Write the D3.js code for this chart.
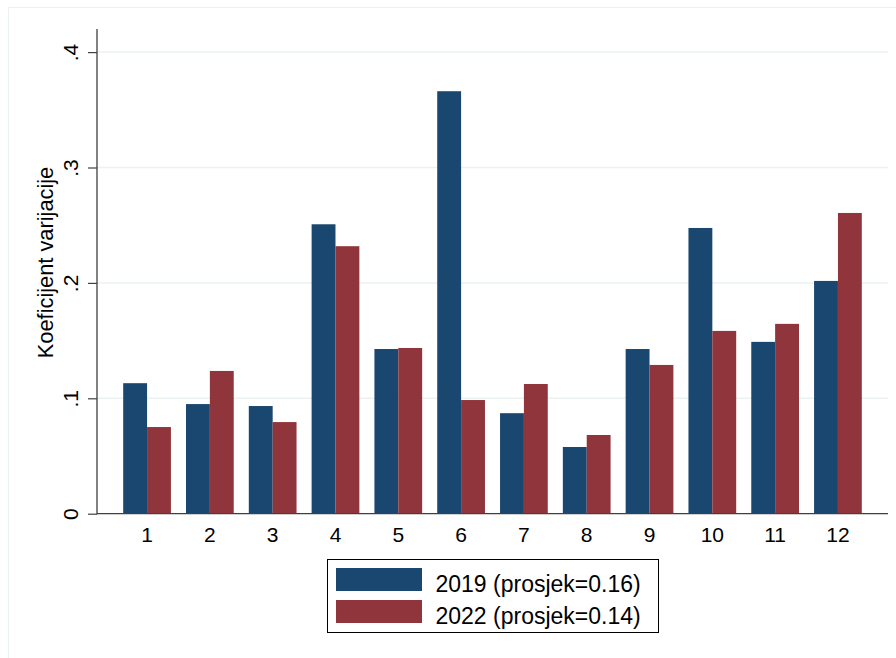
<!DOCTYPE html>
<html><head><meta charset="utf-8">
<script src="https://cdn.jsdelivr.net/npm/d3@7"></script>
<style>
html,body{margin:0;padding:0;background:#fff;}
svg{display:block;font-family:"Liberation Sans",Arial,Helvetica,sans-serif;}
</style></head>
<body><svg id="c" width="896" height="658"></svg>
<script>
const categories = ["1","2","3","4","5","6","7","8","9","10","11","12"];
const values2019 = [0.1131,0.0950,0.0933,0.2508,0.1427,0.3661,0.0871,0.0578,0.1427,0.2476,0.1489,0.2017];
const values2022 = [0.0751,0.1237,0.0794,0.2318,0.1436,0.0985,0.1124,0.0682,0.1289,0.1584,0.1645,0.2606];
const seriesNames = ["2019 (prosjek=0.16)","2022 (prosjek=0.14)"];
const yTicks = [0,0.1,0.2,0.3,0.4];
const yTickLabels = ["0",".1",".2",".3",".4"];
const yTitle = "Koeficijent varijacije";
const colors = ["#1a476f","#90353b"];

const svg = d3.select("#c");
// outer frame
svg.append("rect").attr("x",8.5).attr("y",7.5).attr("width",900).attr("height",700)
  .attr("fill","none").attr("stroke","#eaf2f3").attr("stroke-width",1);

const x0 = 97, x1 = 888, yZero = 513.7;
const y = d3.scaleLinear().domain([0,0.4]).range([yZero, yZero - 461.6]);
const x = d3.scaleBand().domain(categories).range([x0, x1]).paddingInner(0.24).paddingOuter(0.417);
const xs = d3.scaleBand().domain([0,1]).range([0, x.bandwidth()]);

// gridlines
svg.append("g").selectAll("line").data(yTicks.slice(1)).join("line")
  .attr("x1",x0).attr("x2",x1).attr("y1",d=>y(d)).attr("y2",d=>y(d))
  .attr("stroke","#eaf2f3").attr("stroke-width",1.5);

// bars
const series = [values2019, values2022];
const g = svg.append("g");
categories.forEach((c,i)=>{
  series.forEach((vals,s)=>{
    g.append("rect")
      .attr("x", x(c)+xs(s)).attr("width", xs.bandwidth())
      .attr("y", y(vals[i])).attr("height", y(0)-y(vals[i]))
      .attr("fill", colors[s]);
  });
});

// y axis
const yAxis = d3.axisLeft(y).tickValues(yTicks).tickFormat((d,i)=>yTickLabels[i]).tickSize(9).tickPadding(0);
const ya = svg.append("g").attr("transform",`translate(${x0},0)`).call(yAxis);
ya.select(".domain").remove();
ya.selectAll(".tick line").attr("stroke","#404040").attr("stroke-width",1.2);
ya.selectAll(".tick text").remove();
ya.selectAll(".tick").append("text")
  .attr("transform","translate(-19,0) rotate(-90)")
  .attr("text-anchor","middle").attr("fill","#000")
  .attr("font-size",21).text((d,i)=>yTickLabels[i]);
svg.append("line").attr("x1",x0).attr("x2",x0).attr("y1",29).attr("y2",yZero+0.5)
  .attr("stroke","#404040").attr("stroke-width",1.3);

// x axis
const xAxis = d3.axisBottom(x).tickSize(0).tickPadding(0);
const xa = svg.append("g").attr("transform",`translate(0,${yZero})`).call(xAxis);
xa.select(".domain").remove();
xa.selectAll(".tick text").attr("font-size",21).attr("fill","#000").attr("dy",0).attr("y",28.5)
  .attr("font-family","Liberation Sans, Arial, sans-serif");
svg.append("line").attr("x1",x0).attr("x2",x1).attr("y1",yZero).attr("y2",yZero)
  .attr("stroke","#404040").attr("stroke-width",1.3);

// y title
svg.append("text").attr("transform","translate(53,262.5) rotate(-90)")
  .attr("text-anchor","middle").attr("font-size",21.8).attr("fill","#000").text(yTitle);

// legend
const lg = svg.append("g");
lg.append("rect").attr("x",327.5).attr("y",559.5).attr("width",331).attr("height",73)
  .attr("fill","#fff").attr("stroke","#000").attr("stroke-width",1);
seriesNames.forEach((n,i)=>{
  lg.append("rect").attr("x",336).attr("y",568+i*32).attr("width",86).attr("height",23).attr("fill",colors[i]);
  lg.append("text").attr("x",435.5).attr("y",591.5+i*32.5).attr("font-size",23).attr("fill","#000").text(n);
});
</script></body></html>
